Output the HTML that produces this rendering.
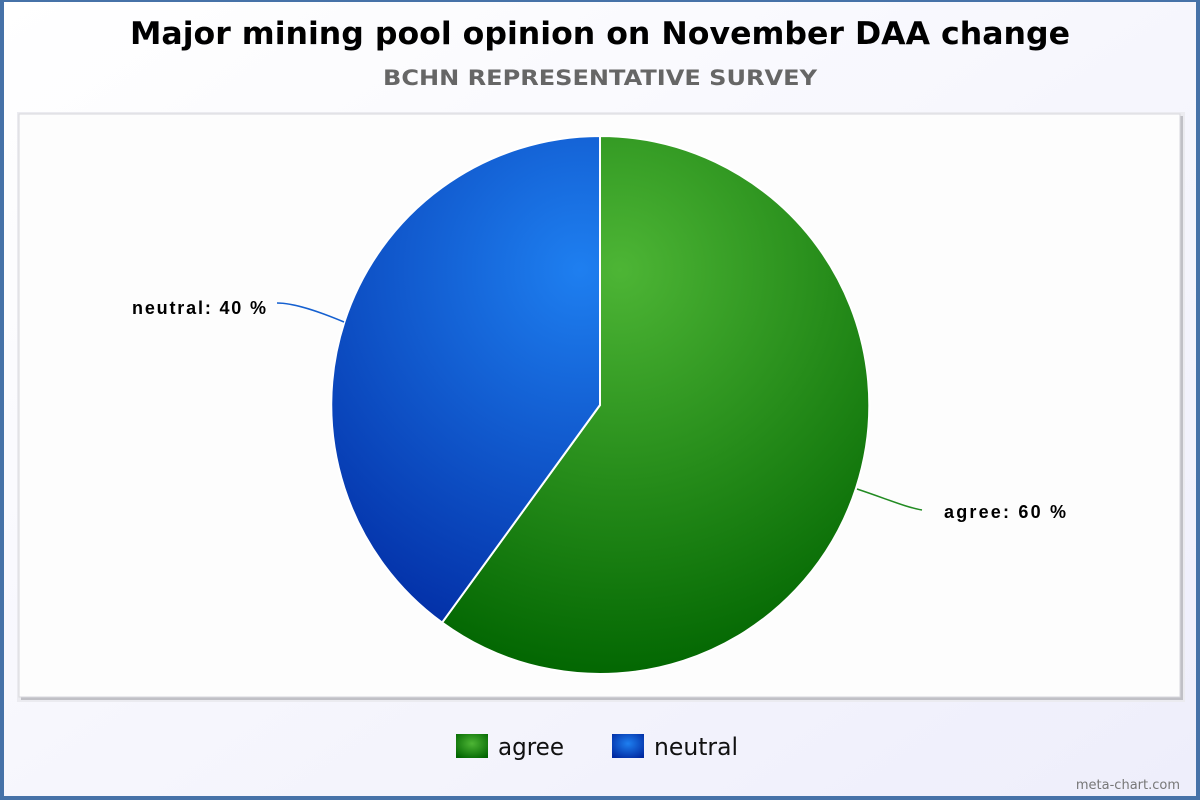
<!DOCTYPE html>
<html><head><meta charset="utf-8"><style>
html,body{margin:0;padding:0;width:1200px;height:800px;overflow:hidden}
</style></head><body>
<svg width="1200" height="800" xmlns="http://www.w3.org/2000/svg">
<defs>
<linearGradient id="bg" x1="0" y1="0" x2="1" y2="1">
<stop offset="0" stop-color="#ffffff"/><stop offset="1" stop-color="#eeeefb"/>
</linearGradient>
<radialGradient id="g" cx="620" cy="270" r="420" gradientUnits="userSpaceOnUse">
<stop offset="0" stop-color="#4db535"/><stop offset="1" stop-color="#006400"/>
</radialGradient>
<radialGradient id="b" cx="580" cy="270" r="420" gradientUnits="userSpaceOnUse">
<stop offset="0" stop-color="#1e7ff0"/><stop offset="1" stop-color="#0028a0"/>
</radialGradient>
<radialGradient id="lg" cx="0.5" cy="0.4" r="0.7">
<stop offset="0" stop-color="#4db535"/><stop offset="1" stop-color="#006400"/>
</radialGradient>
<radialGradient id="lb" cx="0.5" cy="0.4" r="0.7">
<stop offset="0" stop-color="#1e7ff0"/><stop offset="1" stop-color="#0028a0"/>
</radialGradient>
</defs>
<rect x="0" y="0" width="1200" height="800" fill="#4672a8"/>
<rect x="4" y="2" width="1192" height="794" fill="url(#bg)"/>
<rect x="17" y="112" width="1168" height="590" fill="#ebebf0"/>
<rect x="21" y="116" width="1162" height="584" fill="#c0c0c6"/>
<rect x="19" y="114" width="1161" height="583" fill="#fdfdfd" stroke="#d8d8dd" stroke-width="1"/>
<text x="130" y="44" textLength="940" lengthAdjust="spacingAndGlyphs" font-family="DejaVu Sans, sans-serif" font-weight="bold" font-size="31" fill="#000">Major mining pool opinion on November DAA change</text>
<text x="383" y="85" textLength="434" lengthAdjust="spacingAndGlyphs" font-family="DejaVu Sans, sans-serif" font-weight="bold" font-size="21" fill="#666">BCHN REPRESENTATIVE SURVEY</text>
<path d="M600,405 L600,136 A269,269 0 1 1 442.1,622.6 Z" fill="url(#g)" stroke="#fff" stroke-width="2"/>
<path d="M600,405 L442.1,622.6 A269,269 0 0 1 600,136 Z" fill="url(#b)" stroke="#fff" stroke-width="2"/>
<path d="M857,489 C890,500 905,507 922,510" fill="none" stroke="#228b22" stroke-width="1.5"/>
<path d="M344,322 C320,312 295,303 277,303" fill="none" stroke="#1560d0" stroke-width="1.5"/>
<text x="944" y="518" textLength="122" lengthAdjust="spacing" font-family="Liberation Sans, sans-serif" font-weight="bold" font-size="18" fill="#000">agree: 60 %</text>
<text x="132" y="314" textLength="134" lengthAdjust="spacing" font-family="Liberation Sans, sans-serif" font-weight="bold" font-size="18" fill="#000">neutral: 40 %</text>
<rect x="456" y="734" width="32" height="24" fill="url(#lg)"/>
<text x="498" y="755" textLength="66" lengthAdjust="spacingAndGlyphs" font-family="DejaVu Sans, sans-serif" font-size="24" fill="#111">agree</text>
<rect x="612" y="734" width="32" height="24" fill="url(#lb)"/>
<text x="654" y="755" textLength="84" lengthAdjust="spacingAndGlyphs" font-family="DejaVu Sans, sans-serif" font-size="24" fill="#111">neutral</text>
<text x="1180" y="789" text-anchor="end" font-family="DejaVu Sans, sans-serif" font-size="13" fill="#777">meta-chart.com</text>
</svg>
</body></html>
